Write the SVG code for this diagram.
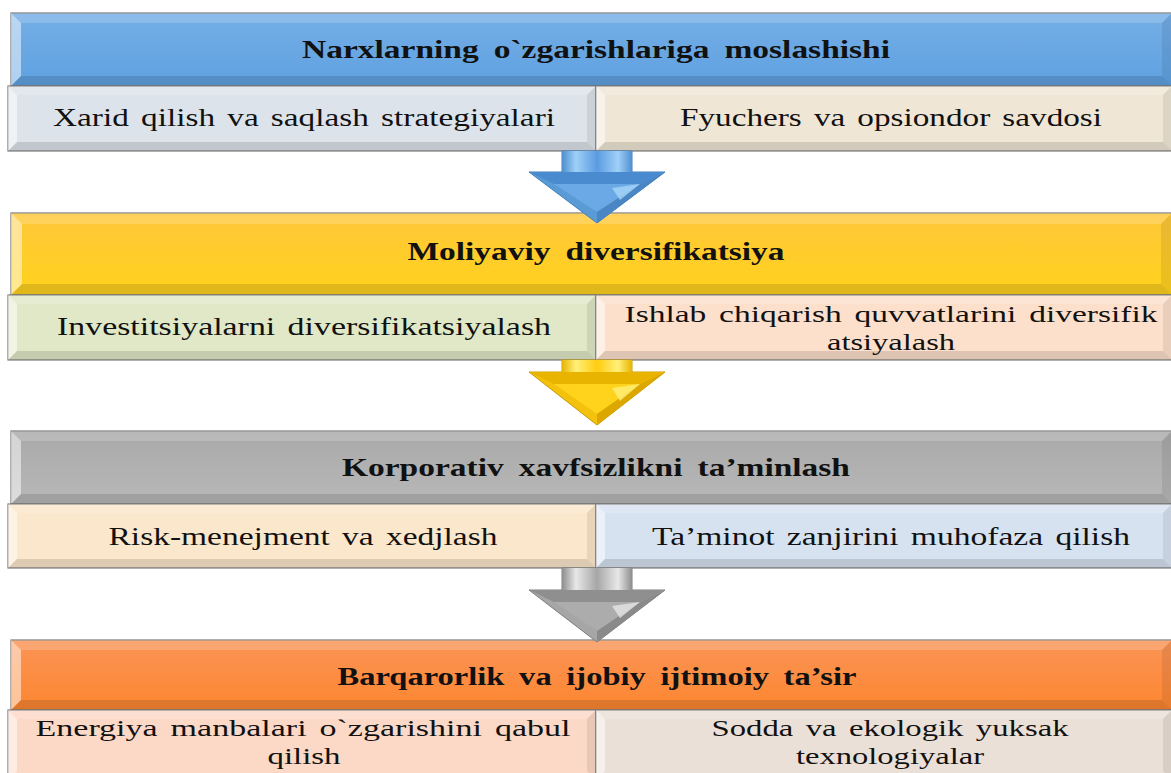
<svg xmlns="http://www.w3.org/2000/svg" width="1171" height="773" viewBox="0 0 1171 773">
<defs>
<linearGradient id="gBlue" x1="0" y1="0" x2="0" y2="1"><stop offset="0" stop-color="#74aee6"/><stop offset="1" stop-color="#5fa1e1"/></linearGradient>
<linearGradient id="gYel" x1="0" y1="0" x2="0" y2="1"><stop offset="0" stop-color="#ffc73a"/><stop offset="1" stop-color="#ffd21c"/></linearGradient>
<linearGradient id="gGray" x1="0" y1="0" x2="0" y2="1"><stop offset="0" stop-color="#a9a9a9"/><stop offset="1" stop-color="#b8b8b8"/></linearGradient>
<linearGradient id="gOra" x1="0" y1="0" x2="0" y2="1"><stop offset="0" stop-color="#fb9456"/><stop offset="1" stop-color="#fd8630"/></linearGradient>
<linearGradient id="aBlue" x1="0" y1="0" x2="1" y2="0"><stop offset="0" stop-color="#4f8fd0"/><stop offset="0.2" stop-color="#9fd0f8"/><stop offset="0.5" stop-color="#5b9be0"/><stop offset="0.8" stop-color="#9fd0f8"/><stop offset="1" stop-color="#4f8fd0"/></linearGradient>
<linearGradient id="aYel" x1="0" y1="0" x2="1" y2="0"><stop offset="0" stop-color="#e8b400"/><stop offset="0.2" stop-color="#fff07a"/><stop offset="0.5" stop-color="#ffcc10"/><stop offset="0.8" stop-color="#fff07a"/><stop offset="1" stop-color="#e8b400"/></linearGradient>
<linearGradient id="aGray" x1="0" y1="0" x2="1" y2="0"><stop offset="0" stop-color="#8e8e8e"/><stop offset="0.2" stop-color="#e8e8e8"/><stop offset="0.5" stop-color="#a6a6a6"/><stop offset="0.8" stop-color="#e8e8e8"/><stop offset="1" stop-color="#8e8e8e"/></linearGradient>
</defs>
<style>
.box{stroke:#7a7a7a;stroke-width:1.2}
.bl{fill:#fff;opacity:.5}
.bt{fill:#fff;opacity:.18}
.bb{fill:#000;opacity:.12}
.br{fill:#000;opacity:.08}
.h{font-family:"Liberation Serif","Times New Roman",serif;font-weight:bold;font-size:25px;fill:#111;text-anchor:middle;word-spacing:5px}
.s{font-family:"Liberation Serif","Times New Roman",serif;font-size:26px;fill:#111;text-anchor:middle;word-spacing:3px}
.s2{font-family:"Liberation Serif","Times New Roman",serif;font-size:23px;fill:#111;text-anchor:middle;word-spacing:3px}
</style>

<g id="node-h1">
<rect class="box" x="11" y="13" width="1161" height="73" fill="url(#gBlue)"/>
<polygon class="bl" points="11,13 21,23 21,76 11,86"/><polygon class="bt" points="11,13 1172,13 1162,23 21,23"/><polygon class="bb" points="11,86 21,76 1162,76 1172,86"/><polygon class="br" points="1172,13 1172,86 1162,76 1162,23"/>
<text class="h" x="596" y="58" textLength="588" lengthAdjust="spacingAndGlyphs">Narxlarning o`zgarishlariga moslashishi</text>
</g>
<g id="node-s1a">
<rect class="box" x="8" y="86" width="588" height="65" fill="#dde3ea"/>
<polygon class="bl" points="8,86 17,95 17,142 8,151"/><polygon class="bt" points="8,86 596,86 587,95 17,95"/><polygon class="bb" points="8,151 17,142 587,142 596,151"/><polygon class="br" points="596,86 596,151 587,142 587,95"/>
<text class="s" x="304" y="126" textLength="502" lengthAdjust="spacingAndGlyphs">Xarid qilish va saqlash strategiyalari</text>
</g>
<g id="node-s1b">
<rect class="box" x="596" y="86" width="576" height="65" fill="#efe6d5"/>
<polygon class="bl" points="596,86 605,95 605,142 596,151"/><polygon class="bt" points="596,86 1172,86 1163,95 605,95"/><polygon class="bb" points="596,151 605,142 1163,142 1172,151"/><polygon class="br" points="1172,86 1172,151 1163,142 1163,95"/>
<text class="s" x="891" y="126" textLength="422" lengthAdjust="spacingAndGlyphs">Fyuchers va opsiondor savdosi</text>
</g>

<g id="node-h2">
<rect class="box" x="11" y="213" width="1161" height="82" fill="url(#gYel)"/>
<polygon class="bl" points="11,213 22,224 22,284 11,295"/><polygon class="bt" points="11,213 1172,213 1161,224 22,224"/><polygon class="bb" points="11,295 22,284 1161,284 1172,295"/><polygon class="br" points="1172,213 1172,295 1161,284 1161,224"/>
<text class="h" x="596" y="260" textLength="377" lengthAdjust="spacingAndGlyphs">Moliyaviy diversifikatsiya</text>
</g>
<g id="node-s2a">
<rect class="box" x="8" y="295" width="588" height="65" fill="#e0e8c7"/>
<polygon class="bl" points="8,295 17,304 17,351 8,360"/><polygon class="bt" points="8,295 596,295 587,304 17,304"/><polygon class="bb" points="8,360 17,351 587,351 596,360"/><polygon class="br" points="596,295 596,360 587,351 587,304"/>
<text class="s" x="304" y="335" textLength="494" lengthAdjust="spacingAndGlyphs">Investitsiyalarni diversifikatsiyalash</text>
</g>
<g id="node-s2b">
<rect class="box" x="596" y="295" width="576" height="65" fill="#fde0cc"/>
<polygon class="bl" points="596,295 605,304 605,351 596,360"/><polygon class="bt" points="596,295 1172,295 1163,304 605,304"/><polygon class="bb" points="596,360 605,351 1163,351 1172,360"/><polygon class="br" points="1172,295 1172,360 1163,351 1163,304"/>
<text class="s2" x="891" y="322" textLength="533" lengthAdjust="spacingAndGlyphs">Ishlab chiqarish quvvatlarini diversifik</text>
<text class="s2" x="891" y="350" textLength="128" lengthAdjust="spacingAndGlyphs">atsiyalash</text>
</g>

<g id="node-h3">
<rect class="box" x="11" y="431" width="1161" height="73" fill="url(#gGray)"/>
<polygon class="bl" points="11,431 21,441 21,494 11,504"/><polygon class="bt" points="11,431 1172,431 1162,441 21,441"/><polygon class="bb" points="11,504 21,494 1162,494 1172,504"/><polygon class="br" points="1172,431 1172,504 1162,494 1162,441"/>
<text class="h" x="596" y="476" textLength="508" lengthAdjust="spacingAndGlyphs">Korporativ xavfsizlikni ta’minlash</text>
</g>
<g id="node-s3a">
<rect class="box" x="8" y="504" width="588" height="64" fill="#fbe7cb"/>
<polygon class="bl" points="8,504 17,513 17,559 8,568"/><polygon class="bt" points="8,504 596,504 587,513 17,513"/><polygon class="bb" points="8,568 17,559 587,559 596,568"/><polygon class="br" points="596,504 596,568 587,559 587,513"/>
<text class="s" x="303" y="545" textLength="389" lengthAdjust="spacingAndGlyphs">Risk-menejment va xedjlash</text>
</g>
<g id="node-s3b">
<rect class="box" x="596" y="504" width="576" height="64" fill="#d7e2f1"/>
<polygon class="bl" points="596,504 605,513 605,559 596,568"/><polygon class="bt" points="596,504 1172,504 1163,513 605,513"/><polygon class="bb" points="596,568 605,559 1163,559 1172,568"/><polygon class="br" points="1172,504 1172,568 1163,559 1163,513"/>
<text class="s" x="891" y="545" textLength="478" lengthAdjust="spacingAndGlyphs">Ta’minot zanjirini muhofaza qilish</text>
</g>

<g id="node-h4">
<rect class="box" x="11" y="640" width="1161" height="70" fill="url(#gOra)"/>
<polygon class="bl" points="11,640 21,650 21,700 11,710"/><polygon class="bt" points="11,640 1172,640 1162,650 21,650"/><polygon class="bb" points="11,710 21,700 1162,700 1172,710"/><polygon class="br" points="1172,640 1172,710 1162,700 1162,650"/>
<text class="h" x="597" y="685" textLength="519" lengthAdjust="spacingAndGlyphs">Barqarorlik va ijobiy ijtimoiy ta’sir</text>
</g>
<g id="node-s4a">
<rect class="box" x="8" y="710" width="588" height="70" fill="#fcd8c7"/>
<polygon class="bl" points="8,710 17,719 17,771 8,780"/><polygon class="bt" points="8,710 596,710 587,719 17,719"/><polygon class="br" points="596,710 596,780 587,771 587,719"/>
<text class="s2" x="303" y="736" textLength="535" lengthAdjust="spacingAndGlyphs">Energiya manbalari  o`zgarishini qabul</text>
<text class="s2" x="304" y="764" textLength="73" lengthAdjust="spacingAndGlyphs">qilish</text>
</g>
<g id="node-s4b">
<rect class="box" x="596" y="710" width="576" height="70" fill="#ebe0d7"/>
<polygon class="bl" points="596,710 605,719 605,771 596,780"/><polygon class="bt" points="596,710 1172,710 1163,719 605,719"/><polygon class="br" points="1172,710 1172,780 1163,771 1163,719"/>
<text class="s2" x="890" y="736" textLength="357" lengthAdjust="spacingAndGlyphs">Sodda va ekologik yuksak</text>
<text class="s2" x="890" y="764" textLength="188" lengthAdjust="spacingAndGlyphs">texnologiyalar</text>
</g>

<g id="connectors">
<g id="arrow1">
<polygon points="562,151 632,151 632,172 665,172 597,223 529,172 562,172" fill="#5b9bd5" stroke="#3f7fbf" stroke-width="1"/>
<rect x="562" y="151" width="70" height="21" fill="url(#aBlue)"/>
<polygon points="529,172 665,172 640,184 554,184" fill="#4a8bd0"/>
<polygon points="554,184 640,184 597,212" fill="#6aa8e6"/>
<polygon points="597,212 640,184 665,172 597,223" fill="#4b86c4"/>
<polygon points="612,188 640,184 620,200" fill="#a8d4f7" opacity=".8"/>
</g>
<g id="arrow2">
<polygon points="562,360 632,360 632,372 665,372 597,425 529,372 562,372" fill="#f4c20c" stroke="#c79a00" stroke-width="1"/>
<rect x="562" y="360" width="70" height="12" fill="url(#aYel)"/>
<polygon points="529,372 665,372 640,384 554,384" fill="#e8b400"/>
<polygon points="554,384 640,384 597,414" fill="#ffd21c"/>
<polygon points="597,414 640,384 665,372 597,425" fill="#dca800"/>
<polygon points="612,388 640,384 620,401" fill="#fff07a" opacity=".8"/>
</g>
<g id="arrow3">
<polygon points="562,568 632,568 632,590 665,590 597,642 529,590 562,590" fill="#a6a6a6" stroke="#7d7d7d" stroke-width="1"/>
<rect x="562" y="568" width="70" height="22" fill="url(#aGray)"/>
<polygon points="529,590 665,590 640,602 554,602" fill="#8f8f8f"/>
<polygon points="554,602 640,602 597,631" fill="#acacac"/>
<polygon points="597,631 640,602 665,590 597,642" fill="#8a8a8a"/>
<polygon points="612,606 640,602 620,618" fill="#e6e6e6" opacity=".8"/>
</g>
</g>
</svg>
